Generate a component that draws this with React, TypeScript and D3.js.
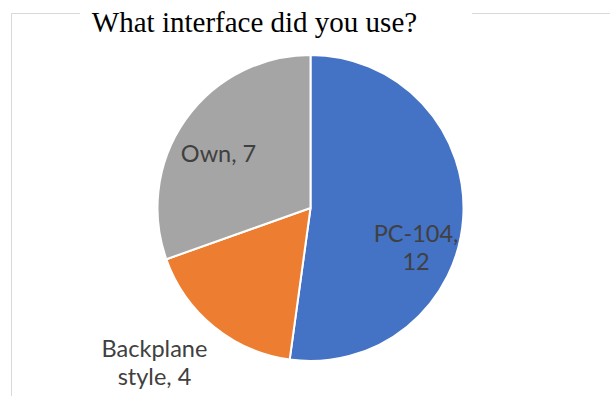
import React from "react";
import * as d3 from "d3";

const categories = ["PC-104", "Backplane style", "Own"];
const values = [12, 4, 7];
const labelLines = [["PC-104,", "12"], ["Backplane", "style, 4"], ["Own, 7"]];
const colors = ["#4472C4", "#ED7D31", "#A5A5A5"];
const title = "What interface did you use?";

const W = 610;
const H = 396;
const CX = 310.5;
const CY = 208;
const R = 153;
// label layout: radius factor for anchor, pixel nudge, line height
const labelRadiusFactor = [0.7, 1.3, 0.7];
const labelNudge: [number, number][] = [[-1.3, 26.4], [-30.5, -5.6], [-4.5, 15.4]];
const lineHeight = 28.5;
const labelFontSize = 23.5;

export default function App() {
  const pie = d3
    .pie<number>()
    .sort(null)
    .value((d) => d)
    .startAngle(0)
    .endAngle(2 * Math.PI);
  const arcs = pie(values);
  const arc = d3.arc<d3.PieArcDatum<number>>().innerRadius(0).outerRadius(R);

  return (
    <svg
      width={W}
      height={H}
      style={{ position: "absolute", left: 0, top: 0, background: "#fff" }}
    >
      <rect x={0} y={0} width={W} height={H} fill="#fff" />
      {/* chart frame */}
      <line x1={11.5} y1={13.5} x2={80} y2={13.5} stroke="#D9D9D9" strokeWidth={1} />
      <line x1={472} y1={13.5} x2={W} y2={13.5} stroke="#D9D9D9" strokeWidth={1} />
      <line x1={11.5} y1={13.5} x2={11.5} y2={H} stroke="#D9D9D9" strokeWidth={1} />
      <text
        x={254.5}
        y={32}
        textAnchor="middle"
        fontFamily="'Liberation Serif', 'Times New Roman', serif"
        fontSize={29}
        fill="#000"
      >
        {title}
      </text>
      <g transform={`translate(${CX},${CY})`}>
        {arcs.map((a, i) => (
          <path
            key={categories[i]}
            d={arc(a) || ""}
            fill={colors[i]}
            stroke="#fff"
            strokeWidth={2}
            strokeLinejoin="round"
          />
        ))}
        {arcs.map((a, i) => {
          const lr = R * labelRadiusFactor[i];
          const la = d3.arc<d3.PieArcDatum<number>>().innerRadius(lr).outerRadius(lr);
          const [x, y] = la.centroid(a);
          const tx = x + labelNudge[i][0];
          const ty = y + labelNudge[i][1];
          return (
            <g key={"l" + i}>
              {labelLines[i].map((ln, j) => (
                <text
                  key={j}
                  x={tx}
                  y={ty + j * lineHeight}
                  textAnchor="middle"
                  fontFamily="Lato, 'Open Sans', sans-serif"
                  fontSize={labelFontSize}
                  fill="#404040"
                >
                  {ln}
                </text>
              ))}
            </g>
          );
        })}
      </g>
    </svg>
  );
}
